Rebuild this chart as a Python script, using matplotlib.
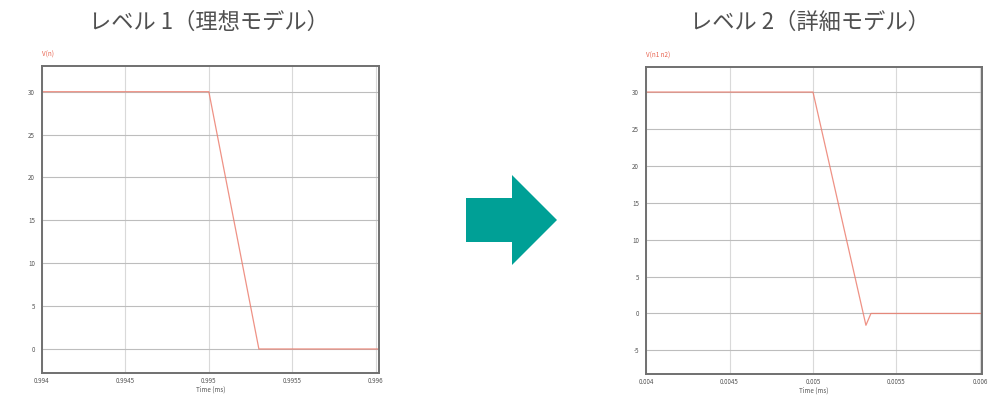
import matplotlib
matplotlib.use("Agg")
import matplotlib.pyplot as plt
from matplotlib.patches import Polygon

plt.rcParams['font.family'] = ['Noto Sans CJK JP', 'DejaVu Sans']

# Level 1 (ideal model) waveform
t_ideal = [0.994, 0.995, 0.9953, 0.99602]
v_ideal = [30, 30, 0, 0]
xticks_ideal = [0.994, 0.9945, 0.995, 0.9955, 0.996]
yticks_ideal = [0, 5, 10, 15, 20, 25, 30]

# Level 2 (detailed model) waveform with undershoot
t_detail = [0.004, 0.005, 0.005317, 0.005347, 0.006012]
v_detail = [30, 30, -1.6, 0, 0]
xticks_detail = [0.004, 0.0045, 0.005, 0.0055, 0.006]
yticks_detail = [-5, 0, 5, 10, 15, 20, 25, 30]

titles = ["レベル 1（理想モデル）", "レベル 2（詳細モデル）"]
trace_names = ["V(n)", "V(n1 n2)"]

line_color = "#ec7f70"
grid_color = "#bdbdbd"

fig = plt.figure(figsize=(9.89, 3.96), dpi=100)


def draw_panel(rect, t, v, xticks, yticks, xlim, ylim, trace_name):
    ax = fig.add_axes(rect)
    ax.plot(t, v, color=line_color, lw=0.9, alpha=0.85)
    ax.set_xlim(*xlim)
    ax.set_ylim(*ylim)
    ax.set_xticks(xticks)
    ax.set_xticklabels([f"{x:g}" for x in xticks])
    ax.set_yticks(yticks)
    ax.set_yticklabels([str(y) for y in yticks])
    ax.grid(axis='y', which='major', color=grid_color, lw=0.8)
    ax.grid(axis='x', which='major', color="#d9d9d9", lw=0.8)
    ax.tick_params(axis='y', length=0, labelsize=4.5,
                   labelcolor="#555555", pad=5)
    ax.tick_params(axis='x', length=0, labelsize=4.5,
                   labelcolor="#555555", pad=3)
    for s in ax.spines.values():
        s.set_color("#707070")
        s.set_linewidth(1.4)
    ax.set_xlabel("Time (ms)", fontsize=4.5, color="#555555", labelpad=0)
    ax.text(0.0, 1.025, trace_name, transform=ax.transAxes, fontsize=4.5,
            color="#e8604c", ha='left', va='bottom')
    return ax


ax1 = draw_panel([0.0425, 0.0581, 0.3407, 0.7753], t_ideal, v_ideal,
                 xticks_ideal, yticks_ideal, (0.994, 0.99602), (-2.8, 33.0),
                 trace_names[0])
ax2 = draw_panel([0.6532, 0.0556, 0.3397, 0.7753], t_detail, v_detail,
                 xticks_detail, yticks_detail, (0.004, 0.006012), (-8.2, 33.4),
                 trace_names[1])

fig.text(209 / 989, 1 - 22 / 396, titles[0], ha='center', va='center',
         fontsize=16, color="#505050")
fig.text(810 / 989, 1 - 22 / 396, titles[1], ha='center', va='center',
         fontsize=16, color="#505050")

# Block arrow between the two panels
W, H = 989, 396
arrow_px = [(466, 198), (512, 198), (512, 175), (557, 220),
            (512, 265), (512, 242), (466, 242)]
arrow = Polygon([(x / W, 1 - y / H) for x, y in arrow_px], closed=True,
                transform=fig.transFigure, facecolor="#00a096",
                edgecolor='none')
fig.patches.append(arrow)

fig.savefig("out.png", dpi=100)
